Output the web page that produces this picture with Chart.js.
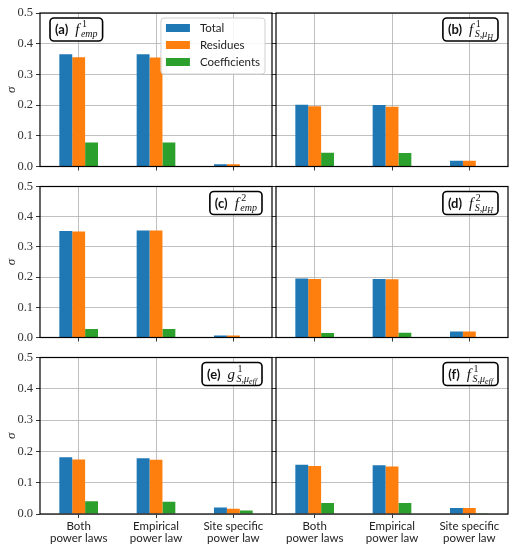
<!DOCTYPE html>
<html lang="en">
<head>
  <meta charset="UTF-8">
  <title>Sigma per power law fit</title>
  <script src="https://cdn.jsdelivr.net/npm/chart.js"></script>
  <style>
    body { margin: 0; background: #fff; }
    #grid { position: relative; width: 517px; height: 550px; }
    #grid canvas { position: absolute; }
  </style>
</head>
<body>
  <div id="grid"></div>

  <script>
    const categories = [['Both', 'power laws'], ['Empirical', 'power law'], ['Site specific', 'power law']];
    const seriesNames = ['Total', 'Residues', 'Coefficients'];
    const seriesColors = ['#1f77b4', '#ff7f0e', '#2ca02c'];
    const yTicks = [0, 0.1, 0.2, 0.3, 0.4, 0.5];

    // (a) f^1_emp
    const aTotal = [0.366, 0.366, 0.007];
    const aResidues = [0.356, 0.355, 0.007];
    const aCoefficients = [0.078, 0.078, 0.001];
    // (b) f^1_S,muH
    const bTotal = [0.201, 0.200, 0.019];
    const bResidues = [0.196, 0.195, 0.019];
    const bCoefficients = [0.045, 0.044, 0.002];
    // (c) f^2_emp
    const cTotal = [0.353, 0.354, 0.007];
    const cResidues = [0.351, 0.354, 0.007];
    const cCoefficients = [0.028, 0.028, 0.001];
    // (d) f^2_S,muH
    const dTotal = [0.195, 0.194, 0.020];
    const dResidues = [0.194, 0.193, 0.020];
    const dCoefficients = [0.015, 0.016, 0.002];
    // (e) g^1_S,mueff
    const eTotal = [0.181, 0.178, 0.021];
    const eResidues = [0.174, 0.173, 0.017];
    const eCoefficients = [0.041, 0.039, 0.011];
    // (f) f^1_S,mueff
    const fTotal = [0.157, 0.156, 0.019];
    const fResidues = [0.153, 0.152, 0.019];
    const fCoefficients = [0.035, 0.035, 0.001];

    Chart.defaults.font.family = 'Lato';
    Chart.defaults.color = '#222';

    const serif = '"Liberation Serif", "DejaVu Serif", serif';

    // plot area bounds per column / row (page pixels)
    const cols = [{ L: 40, R: 272, yw: 40 }, { L: 276, R: 508, yw: 6 }];
    const rows = [{ T: 13, B: 172, pad: 13, xh: 5 }, { T: 184, B: 343, pad: 8, xh: 5 }, { T: 355, B: 514, pad: 8, xh: 34 }];

    const panels = [
      { col: 0, row: 0, series: [aTotal, aResidues, aCoefficients], title: { tag: '(a)', base: 'f', sup: '1', sub: [['emp', 0]] }, left: true, legend: true },
      { col: 1, row: 0, series: [bTotal, bResidues, bCoefficients], title: { tag: '(b)', base: 'f', sup: '1', sub: [['S,μ', 0], ['H', 1]] } },
      { col: 0, row: 1, series: [cTotal, cResidues, cCoefficients], title: { tag: '(c)', base: 'f', sup: '2', sub: [['emp', 0]] } },
      { col: 1, row: 1, series: [dTotal, dResidues, dCoefficients], title: { tag: '(d)', base: 'f', sup: '2', sub: [['S,μ', 0], ['H', 1]] } },
      { col: 0, row: 2, series: [eTotal, eResidues, eCoefficients], title: { tag: '(e)', base: 'g', sup: '1', sub: [['S,μ', 0], ['eff', 1]] } },
      { col: 1, row: 2, series: [fTotal, fResidues, fCoefficients], title: { tag: '(f)', base: 'f', sup: '1', sub: [['S,μ', 0], ['eff', 1]] } }
    ];

    function roundRect(ctx, x, y, w, h, r) {
      ctx.beginPath();
      ctx.moveTo(x + r, y);
      ctx.arcTo(x + w, y, x + w, y + h, r);
      ctx.arcTo(x + w, y + h, x, y + h, r);
      ctx.arcTo(x, y + h, x, y, r);
      ctx.arcTo(x, y, x + w, y, r);
      ctx.closePath();
    }

    const fonts = {
      tag: 'bold 13px Lato',
      base: 'italic 15px ' + serif,
      sup: '10px ' + serif,
      sub0: 'italic 10px ' + serif,
      sub1: 'italic 8px ' + serif
    };

    function width(ctx, font, s) { ctx.font = font; return ctx.measureText(s).width; }

    const panelPlugin = {
      id: 'panelDeco',
      afterDatasetsDraw(chart, args, opts) {
        const { ctx, chartArea: a } = chart;
        ctx.save();
        // frame
        ctx.strokeStyle = '#000';
        ctx.lineWidth = 1.2;
        ctx.strokeRect(a.left, a.top, a.right - a.left, a.bottom - a.top);

        // panel title box
        const t = opts.title;
        const wTag = width(ctx, fonts.tag, t.tag);
        const wBase = width(ctx, fonts.base, t.base);
        const wSup = width(ctx, fonts.sup, t.sup);
        let wSub = 0;
        t.sub.forEach(([s, lvl]) => { wSub += width(ctx, fonts['sub' + lvl], s); });
        const inner = wTag + 7 + wBase + 1.5 + Math.max(wSup, wSub);
        const bw = inner + 10, bh = 23;
        const bx = opts.left ? a.left + 10 : a.right - 10 - bw;
        const by = a.top + 5;
        roundRect(ctx, bx, by, bw, bh, 4);
        ctx.fillStyle = '#fff';
        ctx.fill();
        ctx.lineWidth = 1.6;
        ctx.strokeStyle = '#000';
        ctx.stroke();
        const base = by + 16;
        ctx.fillStyle = '#111';
        ctx.textBaseline = 'alphabetic';
        let x = bx + 5;
        ctx.font = fonts.tag; ctx.fillText(t.tag, x, base); x += wTag + 7;
        ctx.font = fonts.base; ctx.fillText(t.base, x, base); x += wBase + 1.5;
        ctx.font = fonts.sup; ctx.fillText(t.sup, x + 1, base - 7);
        t.sub.forEach(([s, lvl]) => {
          ctx.font = fonts['sub' + lvl];
          ctx.fillText(s, x, base + (lvl ? 5.5 : 3));
          x += ctx.measureText(s).width;
        });

        // legend
        if (opts.legend) {
          ctx.font = '11.5px Lato';
          const ds = chart.data.datasets;
          const tw = Math.max(...ds.map(d => ctx.measureText(d.label).width));
          const lw = 39 + tw + 5, lh = 56;
          const lx = a.right - 7 - lw, ly = a.top + 5;
          roundRect(ctx, lx, ly, lw, lh, 3);
          ctx.fillStyle = 'rgba(255,255,255,0.85)';
          ctx.fill();
          ctx.lineWidth = 1;
          ctx.strokeStyle = '#d0d0d0';
          ctx.stroke();
          ctx.textBaseline = 'middle';
          ds.forEach((d, i) => {
            const cy = ly + 10 + i * 17;
            ctx.fillStyle = d.backgroundColor;
            ctx.fillRect(lx + 5, cy - 4, 24, 8);
            ctx.fillStyle = '#222';
            ctx.fillText(d.label, lx + 39, cy + 0.5);
          });
        }
        ctx.restore();
      }
    };

    const holder = document.getElementById('grid');

    panels.forEach(p => {
      const c = cols[p.col], r = rows[p.row];
      const showY = p.col === 0, showX = p.row === 2;
      const canvas = document.createElement('canvas');
      const w = c.R - c.L + c.yw + 2;
      const h = r.B - r.T + r.pad + r.xh;
      canvas.width = w; canvas.height = h;
      canvas.style.width = w + 'px'; canvas.style.height = h + 'px';
      canvas.style.left = (c.L - c.yw) + 'px';
      canvas.style.top = (r.T - r.pad) + 'px';
      holder.appendChild(canvas);

      new Chart(canvas, {
        type: 'bar',
        data: {
          labels: categories,
          datasets: p.series.map((vals, i) => ({
            label: seriesNames[i],
            data: vals,
            backgroundColor: seriesColors[i],
            borderWidth: 0,
            categoryPercentage: 0.5,
            barPercentage: 1.0
          }))
        },
        options: {
          responsive: false,
          animation: false,
          layout: { padding: { top: r.pad, right: 2, left: 0, bottom: 0 } },
          plugins: {
            legend: { display: false },
            tooltip: { enabled: false },
            panelDeco: { title: p.title, left: !!p.left, legend: !!p.legend }
          },
          scales: {
            x: {
              offset: true,
              grid: { offset: false, color: '#b0b0b0', lineWidth: 0.8, tickColor: '#000', tickLength: 4 },
              border: { display: false },
              ticks: {
                autoSkip: false, maxRotation: 0, padding: 3,
                font: { family: 'Lato', size: 11.5, lineHeight: 1.0 },
                color: '#222',
                callback: (v, i) => showX ? categories[i] : ''
              },
              afterFit: s => { s.height = r.xh; }
            },
            y: {
              min: 0, max: 0.5,
              afterBuildTicks: s => { s.ticks = yTicks.map(v => ({ value: v })); },
              grid: { color: '#b0b0b0', lineWidth: 0.8, tickColor: '#000', tickLength: 4 },
              border: { display: false },
              ticks: {
                padding: 3,
                font: { family: serif, size: 12.5 },
                color: '#333',
                callback: v => showY ? v.toFixed(1) : ''
              },
              title: {
                display: showY, text: 'σ', padding: { top: 4, bottom: 0 },
                font: { family: serif, style: 'italic', size: 13 },
                color: '#222'
              },
              afterFit: s => { s.width = c.yw; }
            }
          }
        },
        plugins: [panelPlugin]
      });
    });
  </script>
</body>
</html>
